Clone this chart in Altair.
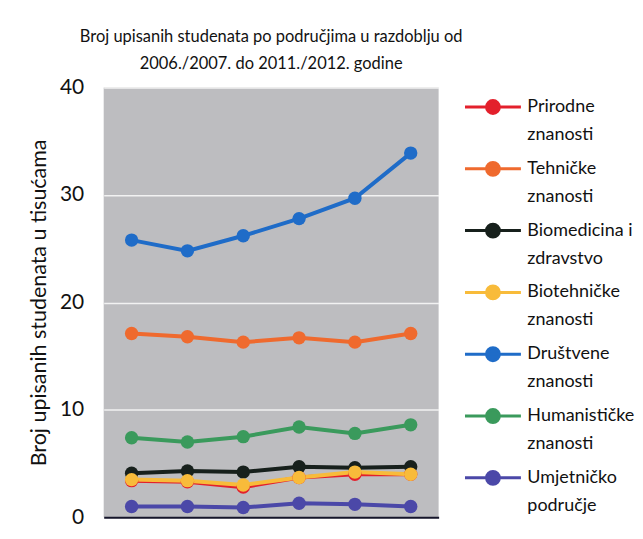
import altair as alt
import pandas as pd

years = ["2006./2007.", "2007./2008.", "2008./2009.", "2009./2010.", "2010./2011.", "2011./2012."]
series = ["Prirodne znanosti", "Tehničke znanosti", "Biomedicina i zdravstvo",
          "Biotehničke znanosti", "Društvene znanosti", "Humanističke znanosti",
          "Umjetničko područje"]
colors = ["#e3202c", "#ef6a2e", "#17201c", "#f8bb3a", "#1f6cc8", "#3a9a5c", "#4b48a8"]

prirodne = [3.4, 3.3, 2.8, 3.7, 4.0, 4.0]
tehnicke = [17.1, 16.8, 16.3, 16.7, 16.3, 17.1]
biomedicina = [4.1, 4.3, 4.2, 4.7, 4.6, 4.7]
biotehnicke = [3.5, 3.4, 3.0, 3.7, 4.2, 4.0]
drustvene = [25.8, 24.8, 26.2, 27.8, 29.7, 33.9]
humanisticke = [7.4, 7.0, 7.5, 8.4, 7.8, 8.6]
umjetnicko = [1.0, 1.0, 0.9, 1.3, 1.2, 1.0]

values = [prirodne, tehnicke, biomedicina, biotehnicke, drustvene, humanisticke, umjetnicko]
rows = []
for s, vals in zip(series, values):
    for y, v in zip(years, vals):
        rows.append({"godina": y, "podrucje": s, "broj": v})
df = pd.DataFrame(rows)

FONT = "Lato"
# line with a circle, drawn wider than the legend's symbol box
symbol_path = ("M-1.87,0 L-0.43,0 A0.43,0.43 0 1,1 0.43,0 L1.87,0 "
               "M0.43,0 A0.43,0.43 0 1,1 -0.43,0 Z")

label_expr = ("datum.label == 'Biomedicina i zdravstvo' ? ['Biomedicina i', 'zdravstvo'] : "
              "split(datum.label, ' ')")

color = alt.Color(
    "podrucje:N",
    scale=alt.Scale(domain=series, range=colors),
    sort=series,
    legend=alt.Legend(
        title=None,
        orient="none",
        legendX=374,
        legendY=3,
        symbolType=symbol_path,
        symbolSize=900,
        symbolStrokeWidth=3,
        labelExpr=label_expr,
        labelFont=FONT,
        labelFontSize=18,
        labelColor="#111111",
        labelLimit=300,
        labelOffset=18,
        rowPadding=8,
        padding=0,
    ),
)

x = alt.X("godina:O", sort=years, scale=alt.Scale(type="point", padding=0.5),
          axis=alt.Axis(title=None, labels=False, ticks=False, domain=True,
                        domainColor="#15152a", domainWidth=2, grid=False))
y = alt.Y("broj:Q", scale=alt.Scale(domain=[0, 40]),
          axis=alt.Axis(title="Broj upisanih studenata u tisućama", values=[0, 10, 20, 30, 40],
                        domain=False, ticks=False, labelPadding=20, labelFontSize=21,
                        labelFont=FONT, labelColor="#111111", titleFont=FONT,
                        titleFontSize=21.5, titleFontWeight="normal", titleColor="#111111",
                        titlePadding=9, gridColor="#f2f2f2", gridWidth=1.5))

base = alt.Chart(df).encode(x=x, y=y, color=color, detail="podrucje:N")
lines = base.mark_line(strokeWidth=4)
points = base.mark_point(filled=True, size=180, opacity=1)

chart = (lines + points).properties(
    width=336, height=431,
    title=alt.TitleParams(
        ["Broj upisanih studenata po područjima u razdoblju od",
         "2006./2007. do 2011./2012. godine"],
        font=FONT, fontSize=16.5, fontWeight="normal", color="#111111",
        anchor="middle", lineHeight=27, offset=4,
    ),
    padding={"left": 20, "top": 20, "right": 0, "bottom": 0},
).configure(
    view=alt.ViewConfig(fill="#bdbdc0", stroke=None),
    style={"guide-label": {"lineHeight": 28}},
)

chart.save("out.html", embed_options={"renderer": "svg", "actions": False})
